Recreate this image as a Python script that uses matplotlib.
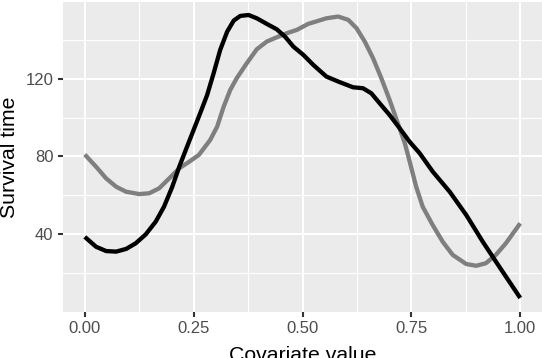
import matplotlib
matplotlib.use("Agg")
import matplotlib.pyplot as plt
from matplotlib.ticker import FixedLocator

plt.rcParams['font.family'] = ['Liberation Sans', 'DejaVu Sans']

# Black curve
black_x = [0.0, 0.026, 0.049, 0.072, 0.095, 0.117, 0.140, 0.163, 0.182, 0.201, 0.217,
           0.232, 0.265, 0.281, 0.296, 0.311, 0.327, 0.342, 0.357, 0.376, 0.395, 0.418,
           0.441, 0.460, 0.479, 0.502, 0.525, 0.555, 0.586, 0.616, 0.639, 0.658, 0.677,
           0.700, 0.723, 0.746, 0.769, 0.799, 0.838, 0.876, 0.914, 0.952, 1.0]
black_y = [38.5, 33.4, 31.2, 30.9, 32.3, 35.2, 39.8, 46.4, 54.1, 64.4, 74.7,
           83.4, 102.3, 111.7, 123.0, 135.0, 144.4, 150.1, 152.5, 153.0, 151.3, 148.4,
           145.6, 141.8, 136.7, 132.4, 127.2, 121.2, 118.3, 115.7, 115.2, 112.6, 107.5,
           101.4, 94.6, 87.6, 81.7, 72.2, 61.8, 49.8, 36.0, 23.1, 7.0]

# Grey curve
grey_x = [0.0, 0.026, 0.049, 0.072, 0.095, 0.125, 0.148, 0.171, 0.194, 0.217, 0.240,
          0.262, 0.288, 0.304, 0.319, 0.334, 0.349, 0.372, 0.395, 0.418, 0.441, 0.464,
          0.487, 0.513, 0.555, 0.582, 0.605, 0.624, 0.643, 0.662, 0.681, 0.700, 0.719,
          0.735, 0.746, 0.761, 0.776, 0.799, 0.822, 0.845, 0.876, 0.899, 0.921, 0.944,
          0.967, 1.0]
grey_y = [81.0, 74.7, 68.7, 64.4, 61.8, 60.6, 61.0, 63.6, 68.7, 73.9, 77.3,
          80.8, 88.5, 95.4, 105.7, 114.3, 120.4, 128.1, 135.3, 139.3, 141.5, 143.6,
          145.3, 148.4, 151.3, 152.2, 150.5, 146.2, 139.3, 130.7, 120.4, 109.2, 97.1,
          86.8, 77.5, 64.4, 54.1, 44.6, 36.0, 29.2, 24.5, 23.6, 24.9, 29.2,
          35.2, 45.5]

x_ticks = [0.0, 0.25, 0.5, 0.75, 1.0]
x_tick_labels = ["0.00", "0.25", "0.50", "0.75", "1.00"]
y_ticks = [40, 80, 120]
y_tick_labels = ["40", "80", "120"]

W, H = 542, 358
fig = plt.figure(figsize=(W / 100, H / 100), dpi=100)
left_px, right_px, top_px, bottom_px = 63, 542, 2, 312
ax = fig.add_axes([left_px / W, 1 - bottom_px / H, (right_px - left_px) / W, (bottom_px - top_px) / H])

ax.set_facecolor('#EBEBEB')
for s in ax.spines.values():
    s.set_visible(False)

ax.plot(grey_x, grey_y, color='#7F7F7F', lw=3.1, solid_capstyle='butt',
        solid_joinstyle='round', zorder=3)
ax.plot(black_x, black_y, color='black', lw=3.1, solid_capstyle='butt',
        solid_joinstyle='round', zorder=4)

ax.set_xlim(-0.05, 1.05)
ax.set_ylim(-0.25, 159.7)

ax.xaxis.set_major_locator(FixedLocator(x_ticks))
ax.set_xticklabels(x_tick_labels)
ax.yaxis.set_major_locator(FixedLocator(y_ticks))
ax.set_yticklabels(y_tick_labels)
ax.xaxis.set_minor_locator(FixedLocator([0.125, 0.375, 0.625, 0.875]))
ax.yaxis.set_minor_locator(FixedLocator([20, 60, 100, 140]))

ax.grid(which='major', color='white', lw=1.5)
ax.grid(which='minor', color='white', lw=0.8)
ax.set_axisbelow(True)

ax.tick_params(which='major', length=3.3, width=1.5, color='#333333',
               labelsize=12, labelcolor='#4D4D4D', pad=3.5)
ax.tick_params(which='minor', length=0)

ax.set_xlabel('Covariate value', fontsize=15.3, color='black', va='top')
ax.xaxis.set_label_coords(0.5, -33.7 / (bottom_px - top_px))
ax.set_ylabel('Survival time', fontsize=15.3, color='black')
ax.yaxis.set_label_coords(-(left_px - 19.5) / (right_px - left_px), 0.5)

fig.savefig('out.png', dpi=100)
